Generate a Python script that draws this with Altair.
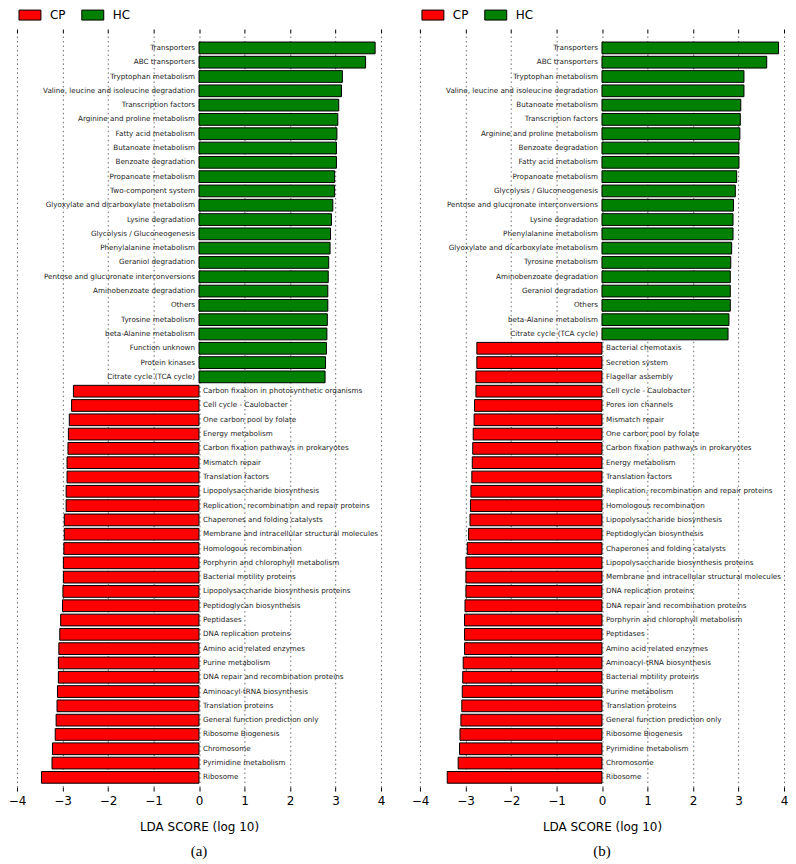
import altair as alt
import pandas as pd

# ---------------- Panel (a) ----------------
a_hc_names = ["Transporters", "ABC transporters", "Tryptophan metabolism",
              "Valine, leucine and isoleucine degradation", "Transcription factors",
              "Arginine and proline metabolism", "Fatty acid metabolism", "Butanoate metabolism",
              "Benzoate degradation", "Propanoate metabolism", "Two-component system",
              "Glyoxylate and dicarboxylate metabolism", "Lysine degradation",
              "Glycolysis / Gluconeogenesis", "Phenylalanine metabolism", "Geraniol degradation",
              "Pentose and glucuronate interconversions", "Aminobenzoate degradation", "Others",
              "Tyrosine metabolism", "beta-Alanine metabolism", "Function unknown",
              "Protein kinases", "Citrate cycle (TCA cycle)"]
a_hc_vals = [3.87, 3.66, 3.15, 3.13, 3.07, 3.05, 3.03, 3.02, 3.02, 2.98, 2.98, 2.94, 2.91,
             2.89, 2.88, 2.85, 2.84, 2.83, 2.83, 2.82, 2.81, 2.80, 2.78, 2.77]
a_cp_names = ["Carbon fixation in photosynthetic organisms", "Cell cycle - Caulobacter",
              "One carbon pool by folate", "Energy metabolism",
              "Carbon fixation pathways in prokaryotes", "Mismatch repair", "Translation factors",
              "Lipopolysaccharide biosynthesis", "Replication, recombination and repair proteins",
              "Chaperones and folding catalysts", "Membrane and intracellular structural molecules",
              "Homologous recombination", "Porphyrin and chlorophyll metabolism",
              "Bacterial motility proteins", "Lipopolysaccharide biosynthesis proteins",
              "Peptidoglycan biosynthesis", "Peptidases", "DNA replication proteins",
              "Amino acid related enzymes", "Purine metabolism",
              "DNA repair and recombination proteins", "Aminoacyl-tRNA biosynthesis",
              "Translation proteins", "General function prediction only", "Ribosome Biogenesis",
              "Chromosome", "Pyrimidine metabolism", "Ribosome"]
a_cp_vals = [-2.76, -2.80, -2.85, -2.87, -2.88, -2.90, -2.90, -2.92, -2.92, -2.96, -2.96,
             -2.97, -2.98, -2.98, -2.99, -3.00, -3.04, -3.06, -3.08, -3.09, -3.09, -3.11,
             -3.12, -3.14, -3.16, -3.22, -3.23, -3.46]

# ---------------- Panel (b) ----------------
b_hc_names = ["Transporters", "ABC transporters", "Tryptophan metabolism",
              "Valine, leucine and isoleucine degradation", "Butanoate metabolism",
              "Transcription factors", "Arginine and proline metabolism", "Benzoate degradation",
              "Fatty acid metabolism", "Propanoate metabolism", "Glycolysis / Gluconeogenesis",
              "Pentose and glucuronate interconversions", "Lysine degradation",
              "Phenylalanine metabolism", "Glyoxylate and dicarboxylate metabolism",
              "Tyrosine metabolism", "Aminobenzoate degradation", "Geraniol degradation",
              "Others", "beta-Alanine metabolism", "Citrate cycle (TCA cycle)"]
b_hc_vals = [3.88, 3.62, 3.12, 3.12, 3.05, 3.04, 3.03, 3.01, 3.01, 2.96, 2.93, 2.89, 2.88,
             2.88, 2.85, 2.83, 2.82, 2.82, 2.82, 2.79, 2.77]
b_cp_names = ["Bacterial chemotaxis", "Secretion system", "Flagellar assembly",
              "Cell cycle - Caulobacter", "Pores ion channels", "Mismatch repair",
              "One carbon pool by folate", "Carbon fixation pathways in prokaryotes",
              "Energy metabolism", "Translation factors",
              "Replication, recombination and repair proteins", "Homologous recombination",
              "Lipopolysaccharide biosynthesis", "Peptidoglycan biosynthesis",
              "Chaperones and folding catalysts", "Lipopolysaccharide biosynthesis proteins",
              "Membrane and intracellular structural molecules", "DNA replication proteins",
              "DNA repair and recombination proteins", "Porphyrin and chlorophyll metabolism",
              "Peptidases", "Amino acid related enzymes", "Aminoacyl-tRNA biosynthesis",
              "Bacterial motility proteins", "Purine metabolism", "Translation proteins",
              "General function prediction only", "Ribosome Biogenesis", "Pyrimidine metabolism",
              "Chromosome", "Ribosome"]
b_cp_vals = [-2.75, -2.75, -2.77, -2.77, -2.80, -2.81, -2.83, -2.84, -2.85, -2.86, -2.88,
             -2.89, -2.90, -2.93, -2.96, -2.99, -2.99, -2.99, -3.01, -3.02, -3.02, -3.02,
             -3.05, -3.06, -3.07, -3.08, -3.10, -3.12, -3.13, -3.16, -3.40]

groups = ["CP", "HC"]
group_colors = ["#ff0000", "#008000"]
x_ticks = [-4, -3, -2, -1, 0, 1, 2, 3, 4]

FONT = "DejaVu Sans"
W, H = 365, 756


def make_df(hc_names, hc_vals, cp_names, cp_vals):
    rows = []
    i = 0
    for n, v in zip(hc_names, hc_vals):
        rows.append({"key": f"{i:02d} {n}", "name": n, "value": v, "group": "HC", "zero": 0})
        i += 1
    for n, v in zip(cp_names, cp_vals):
        rows.append({"key": f"{i:02d} {n}", "name": n, "value": v, "group": "CP", "zero": 0})
        i += 1
    return pd.DataFrame(rows)


def panel(df, caption):
    yenc = alt.Y("key:N", sort=None, axis=None,
                 scale=alt.Scale(paddingInner=0.18, paddingOuter=0.45, align=0.7))
    xscale = alt.Scale(domain=[-4, 4], nice=False, zero=False)
    base = alt.Chart(df).encode(y=yenc)

    bars = base.mark_bar(stroke="black", strokeWidth=1).encode(
        x=alt.X("value:Q", scale=xscale, stack=None,
                axis=alt.Axis(orient="bottom", values=x_ticks, title="LDA SCORE (log 10)",
                              domain=False, ticks=True, tickSize=4, tickColor="black",
                              labelFont=FONT, labelFontSize=12, labelColor="black",
                              labelPadding=4, labelFlush=False, labelOverlap=False,
                              titleFont=FONT, titleFontSize=12, titleFontWeight="normal",
                              titleColor="black", titlePadding=16,
                              grid=True, gridColor="#444", gridDash=[1.5, 3],
                              gridWidth=0.8, gridOpacity=1)),
        color=alt.Color("group:N",
                        scale=alt.Scale(domain=groups, range=group_colors),
                        legend=alt.Legend(orient="none", legendX=7, legendY=-24,
                                          direction="horizontal", title=None,
                                          symbolType="M-2.2,-1H2.2V1H-2.2Z",
                                          symbolSize=100, symbolStrokeColor="black",
                                          symbolStrokeWidth=1, symbolOpacity=1,
                                          labelFont=FONT, labelFontSize=12,
                                          labelColor="black", labelOffset=14,
                                          columnPadding=14, padding=0)),
    )

    top_ticks = base.mark_point(opacity=0).encode(
        x=alt.X("value:Q", scale=xscale,
                axis=alt.Axis(orient="top", values=x_ticks, labels=False, title=None,
                              domain=False, ticks=True, tickSize=4, tickColor="black",
                              grid=False)),
    )

    hc_text = base.transform_filter("datum.value > 0").mark_text(
        align="right", baseline="middle", dx=-4, font=FONT, fontSize=7.2, color="#222"
    ).encode(x=alt.X("zero:Q", scale=xscale, axis=None), text="name:N")

    cp_text = base.transform_filter("datum.value < 0").mark_text(
        align="left", baseline="middle", dx=4, font=FONT, fontSize=7.2, color="#222"
    ).encode(x=alt.X("zero:Q", scale=xscale, axis=None), text="name:N")

    return alt.layer(bars, top_ticks, hc_text, cp_text).resolve_axis(
        x="independent"
    ).properties(
        width=W, height=H,
        title=alt.TitleParams(caption, orient="bottom", anchor="middle",
                              font="Liberation Serif", fontSize=15, fontWeight="normal",
                              color="black", offset=11),
    )


df_a = make_df(a_hc_names, a_hc_vals, a_cp_names, a_cp_vals)
df_b = make_df(b_hc_names, b_hc_vals, b_cp_names, b_cp_vals)

chart = alt.hconcat(panel(df_a, "(a)"), panel(df_b, "(b)"), spacing=39).resolve_scale(
    color="independent"
).properties(
    bounds="flush",
    padding={"left": 0, "right": 0, "top": 0, "bottom": 0}
).configure_view(stroke=None)

chart.save("out.html", embed_options={"renderer": "svg", "actions": False})
